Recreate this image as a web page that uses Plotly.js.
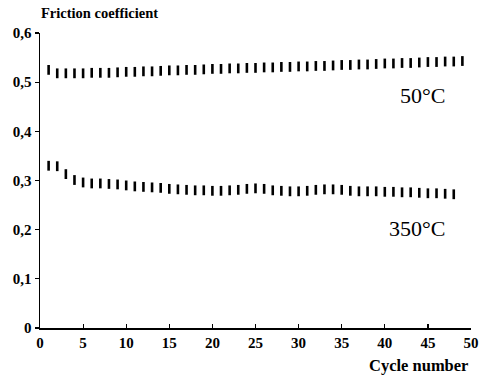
<!DOCTYPE html>
<html>
<head>
<meta charset="utf-8">
<script src="https://cdn.plot.ly/plotly-3.0.1.min.js"></script>
<style>html,body{margin:0;padding:0;background:#fff;}#chart{width:481px;height:377px;}</style>
</head>
<body>
<div id="chart"></div>
<script>
const cycles50 = [1,2,3,4,5,6,7,8,9,10,11,12,13,14,15,16,17,18,19,20,21,22,23,24,25,26,27,28,29,30,31,32,33,34,35,36,37,38,39,40,41,42,43,44,45,46,47,48,49];
const mu50 = [0.525,0.518,0.518,0.518,0.518,0.519,0.519,0.519,0.520,0.521,0.521,0.522,0.522,0.523,0.524,0.524,0.525,0.525,0.526,0.527,0.527,0.528,0.528,0.529,0.529,0.530,0.530,0.531,0.531,0.532,0.532,0.533,0.533,0.534,0.535,0.535,0.536,0.536,0.537,0.538,0.538,0.539,0.539,0.540,0.541,0.541,0.542,0.542,0.543];
const cycles350 = [1,2,3,4,5,6,7,8,9,10,11,12,13,14,15,16,17,18,19,20,21,22,23,24,25,26,27,28,29,30,31,32,33,34,35,36,37,38,39,40,41,42,43,44,45,46,47,48];
const mu350 = [0.330,0.329,0.313,0.301,0.296,0.294,0.294,0.293,0.292,0.290,0.288,0.287,0.286,0.285,0.283,0.282,0.281,0.280,0.280,0.279,0.279,0.280,0.281,0.283,0.284,0.283,0.280,0.279,0.278,0.278,0.279,0.281,0.282,0.282,0.281,0.279,0.278,0.278,0.278,0.277,0.277,0.276,0.276,0.275,0.274,0.274,0.273,0.272];
const yTickVals = [0,0.1,0.2,0.3,0.4,0.5,0.6];
const yTickText = ['0','0,1','0,2','0,3','0,4','0,5','0,6'];
const xTickVals = [0,5,10,15,20,25,30,35,40,45,50];
const labels = {y:'Friction coefficient', x:'Cycle number', s1:'50°C', s2:'350°C'};

const mk = {symbol:'line-ns-open', size:7, color:'#000', line:{color:'#000', width:2.6}};
const data = [
  {x:cycles50, y:mu50, type:'scatter', mode:'markers', marker:mk, hoverinfo:'skip'},
  {x:cycles350, y:mu350, type:'scatter', mode:'markers', marker:mk, hoverinfo:'skip'}
];
const fontS = {family:'Liberation Serif', size:15, color:'#000', weight:'bold'};
const layout = {
  width:481, height:377,
  margin:{l:39.5, r:10, t:32.5, b:48.7},
  paper_bgcolor:'#fff', plot_bgcolor:'#fff',
  showlegend:false,
  xaxis:{range:[0,50], tickvals:xTickVals, ticks:'inside', ticklen:4, tickwidth:1.2, tickcolor:'#000',
         showline:true, linecolor:'#000', linewidth:1.8, showgrid:false, zeroline:false,
         tickfont:fontS, fixedrange:true},
  yaxis:{range:[0,0.6], tickvals:yTickVals, ticktext:yTickText, ticks:'outside', ticklen:4, tickwidth:1.2, tickcolor:'#000',
         showline:true, linecolor:'#000', linewidth:1.5, showgrid:false, zeroline:false,
         tickfont:fontS, fixedrange:true},
  annotations:[
    {text:labels.y, xref:'paper', yref:'paper', x:-0.003, y:1.069, xanchor:'left', yanchor:'middle', showarrow:false,
     font:{family:'Liberation Serif', size:14.5, color:'#000', weight:'bold'}},
    {text:labels.x, xref:'paper', yref:'paper', x:0.998, y:-0.127, xanchor:'right', yanchor:'middle', showarrow:false,
     font:{family:'Liberation Serif', size:16.5, color:'#000', weight:'bold'}},
    {text:labels.s1, xref:'x', yref:'y', x:44.4, y:0.473, xanchor:'center', yanchor:'middle', showarrow:false,
     font:{family:'Liberation Serif', size:22, color:'#000'}},
    {text:labels.s2, xref:'x', yref:'y', x:43.7, y:0.203, xanchor:'center', yanchor:'middle', showarrow:false,
     font:{family:'Liberation Serif', size:22, color:'#000'}}
  ]
};
Plotly.newPlot('chart', data, layout, {displayModeBar:false, staticPlot:true});
</script>
</body>
</html>
